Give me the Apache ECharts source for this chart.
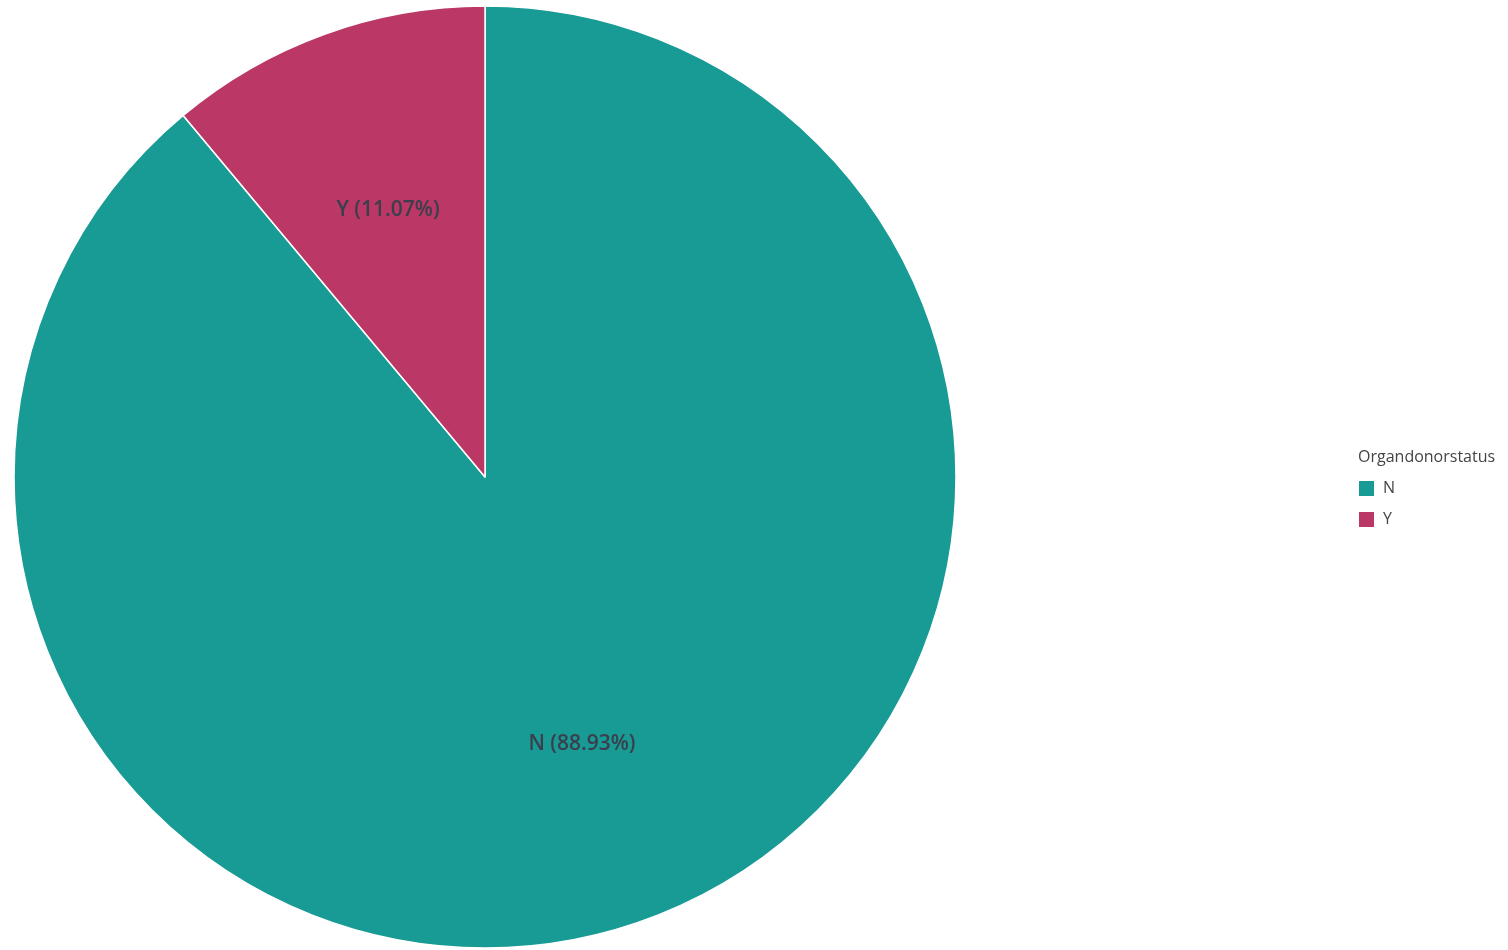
<!DOCTYPE html>
<html><head><meta charset="utf-8">
<script src="https://cdn.jsdelivr.net/npm/echarts@6/dist/echarts.min.js"></script>
<style>html,body{margin:0;padding:0;background:#fff}#c{width:1508px;height:950px}</style>
</head><body><div id="c"></div>
<script>
const categories = ['N', 'Y'];
const percents = [88.93, 11.07];
const colors = ['#189a95', '#ba3766'];
const legendTitle = 'Organdonorstatus';

const data = categories.map((c, i) => ({ name: c, value: percents[i], itemStyle: { color: colors[i] } }));
const legendText = { fontFamily: 'Open Sans', fontSize: 16, color: '#444', padding: [0, 0, 0, 3] };
const chart = echarts.init(document.getElementById('c'));
chart.setOption({
  animation: false,
  title: {
    text: legendTitle, left: 1353, top: 444,
    textStyle: { fontFamily: 'Open Sans', fontSize: 16, fontWeight: 'normal', color: '#444' }
  },
  legend: {
    orient: 'vertical', left: 1357, top: 479, padding: 0,
    itemWidth: 17, itemHeight: 17, itemGap: 12, icon: 'rect',
    data: categories.map(c => ({ name: c, icon: 'rect', textStyle: legendText })),
    textStyle: legendText
  },
  series: [
    {
      type: 'pie', center: [485, 477], radius: 471, startAngle: 90, clockwise: true,
      data: data, label: { show: false }, labelLine: { show: false },
      itemStyle: { borderColor: '#fff', borderWidth: 1.5 }, emphasis: { disabled: true }
    },
    {
      type: 'pie', center: [485, 477], radius: [95, 468], startAngle: 90, clockwise: true,
      silent: true, legendHoverLink: false,
      data: categories.map((c, i) => ({ name: c, value: percents[i], itemStyle: { color: 'rgba(0,0,0,0)' } })),
      itemStyle: { borderWidth: 0 },
      label: {
        show: true, position: 'inside',
        formatter: p => p.name + ' (' + p.value.toFixed(2) + '%)',
        fontFamily: 'Open Sans', fontSize: 21, fontWeight: 600, color: '#3a3f4b'
      },
      labelLine: { show: false }, emphasis: { disabled: true }
    }
  ]
});
</script></body></html>
